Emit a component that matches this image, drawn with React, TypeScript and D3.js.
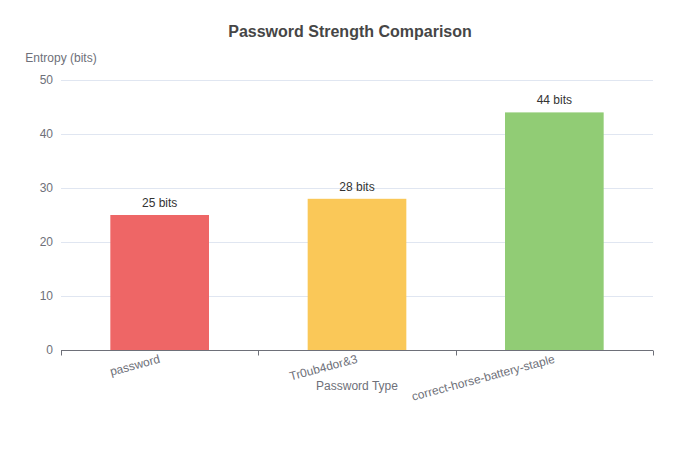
import { useRef, useEffect } from 'react';
import * as d3 from 'd3';

const categories = ['password', 'Tr0ub4dor&3', 'correct-horse-battery-staple'];
const entropyBits = [25, 28, 44];
const barColors = ['#ee6666', '#fac858', '#91cc75'];
const yTicks = [0, 10, 20, 30, 40, 50];

const FONT = "'Liberation Sans', Arial, sans-serif";

export default function App() {
  const ref = useRef<SVGSVGElement | null>(null);

  useEffect(() => {
    const svgEl = ref.current;
    if (!svgEl) return;
    const svg = d3.select(svgEl);
    svg.selectAll('*').remove();

    const width = 700;
    const height = 450;
    const margin = { top: 80, right: 47, bottom: 100, left: 61 };

    const x = d3
      .scaleBand()
      .domain(categories)
      .range([margin.left, width - margin.right])
      .paddingInner(0)
      .paddingOuter(0);

    const y = d3
      .scaleLinear()
      .domain([0, 50])
      .range([height - margin.bottom, margin.top]);

    // Title
    svg
      .append('text')
      .attr('x', 350)
      .attr('y', 37)
      .attr('text-anchor', 'middle')
      .attr('font-family', FONT)
      .attr('font-size', '16px')
      .attr('font-weight', 'bold')
      .attr('fill', '#464646')
      .text('Password Strength Comparison');

    // Grid lines
    svg
      .append('g')
      .selectAll('line')
      .data(yTicks.filter((t) => t > 0))
      .enter()
      .append('line')
      .attr('x1', margin.left)
      .attr('x2', width - margin.right)
      .attr('y1', (d) => y(d) + 0.5)
      .attr('y2', (d) => y(d) + 0.5)
      .attr('stroke', '#e0e6f1')
      .attr('stroke-width', 1);

    // Y tick labels
    svg
      .append('g')
      .selectAll('text')
      .data(yTicks)
      .enter()
      .append('text')
      .attr('x', margin.left - 8)
      .attr('y', (d) => y(d))
      .attr('dy', '0.35em')
      .attr('text-anchor', 'end')
      .attr('font-family', FONT)
      .attr('font-size', '12px')
      .attr('fill', '#6e7079')
      .text((d) => String(d));

    // Y axis name
    svg
      .append('text')
      .attr('x', margin.left)
      .attr('y', 62)
      .attr('text-anchor', 'middle')
      .attr('font-family', FONT)
      .attr('font-size', '12px')
      .attr('fill', '#6e7079')
      .text('Entropy (bits)');

    // Bars
    const barW = x.bandwidth() * 0.5;
    svg
      .append('g')
      .selectAll('rect')
      .data(categories)
      .enter()
      .append('rect')
      .attr('x', (d) => x(d)! + (x.bandwidth() - barW) / 2)
      .attr('width', barW)
      .attr('y', (_, i) => y(entropyBits[i]))
      .attr('height', (_, i) => y(0) - y(entropyBits[i]))
      .attr('fill', (_, i) => barColors[i]);

    // Bar value labels
    svg
      .append('g')
      .selectAll('text')
      .data(categories)
      .enter()
      .append('text')
      .attr('x', (d) => x(d)! + x.bandwidth() / 2)
      .attr('y', (_, i) => y(entropyBits[i]) - 8)
      .attr('text-anchor', 'middle')
      .attr('font-family', FONT)
      .attr('font-size', '12px')
      .attr('fill', '#333333')
      .text((_, i) => `${entropyBits[i]} bits`);

    // X axis line + ticks
    const axisY = y(0) + 0.5;
    svg
      .append('line')
      .attr('x1', margin.left)
      .attr('x2', width - margin.right)
      .attr('y1', axisY)
      .attr('y2', axisY)
      .attr('stroke', '#6e7079')
      .attr('stroke-width', 1);

    const tickXs = [...categories.map((c) => x(c)!), width - margin.right];
    svg
      .append('g')
      .selectAll('line')
      .data(tickXs)
      .enter()
      .append('line')
      .attr('x1', (d) => Math.round(d) + 0.5)
      .attr('x2', (d) => Math.round(d) + 0.5)
      .attr('y1', axisY)
      .attr('y2', axisY + 5)
      .attr('stroke', '#6e7079')
      .attr('stroke-width', 1);

    // X tick labels, rotated
    svg
      .append('g')
      .selectAll('text')
      .data(categories)
      .enter()
      .append('text')
      .attr(
        'transform',
        (d) => `translate(${x(d)! + x.bandwidth() / 2},${axisY + 8}) rotate(-15)`
      )
      .attr('text-anchor', 'end')
      .attr('dy', '0.35em')
      .attr('font-family', FONT)
      .attr('font-size', '12px')
      .attr('fill', '#6e7079')
      .text((d) => d);

    // X axis name
    svg
      .append('text')
      .attr('x', (margin.left + width - margin.right) / 2)
      .attr('y', 390)
      .attr('text-anchor', 'middle')
      .attr('font-family', FONT)
      .attr('font-size', '12px')
      .attr('fill', '#6e7079')
      .text('Password Type');
  }, []);

  return (
    <div style={{ position: 'absolute', left: 0, top: 0 }}>
      <svg ref={ref} width={700} height={450} style={{ display: 'block', background: '#fff' }} />
    </div>
  );
}
